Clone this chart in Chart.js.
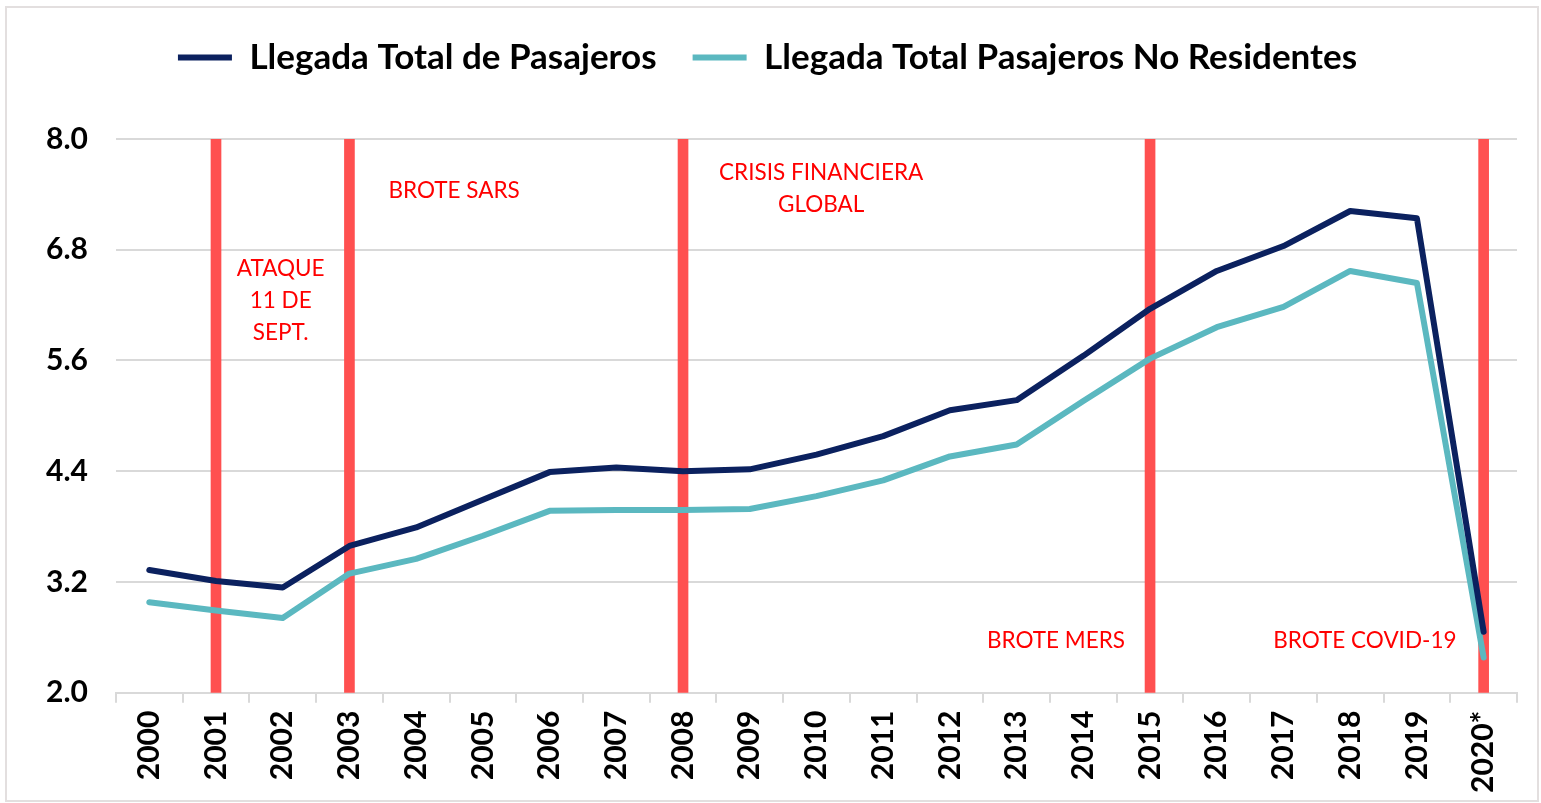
<!DOCTYPE html>
<html>
<head>
<meta charset="utf-8">
<script src="https://cdn.jsdelivr.net/npm/chart.js@4.4.0/dist/chart.umd.min.js"></script>
<style>
  html, body { margin: 0; padding: 0; background: #fff; }
  #wrap { position: relative; width: 1541px; height: 803px; }
  #marco { position: absolute; left: 5px; top: 6px; width: 1530px; height: 792px; border: 2px solid #e3dfdf; pointer-events: none; }
</style>
</head>
<body>
<div id="wrap">
  <canvas id="grafico" width="1541" height="803"></canvas>
  <div id="marco"></div>
</div>
<script>
const anios = ['2000','2001','2002','2003','2004','2005','2006','2007','2008','2009','2010',
               '2011','2012','2013','2014','2015','2016','2017','2018','2019','2020*'];
const llegadaTotal = [3.33,3.21,3.14,3.59,3.79,4.09,4.39,4.44,4.40,4.42,4.58,
                      4.78,5.06,5.17,5.65,6.16,6.57,6.84,7.22,7.14,2.66];
const llegadaNoResidentes = [2.98,2.89,2.81,3.29,3.45,3.70,3.97,3.98,3.98,3.99,4.13,
                             4.30,4.56,4.69,5.16,5.62,5.96,6.18,6.57,6.44,2.38];
const eventos = ['2001','2003','2008','2015','2020*'];
const yTicks = [2.0, 3.2, 4.4, 5.6, 6.8, 8.0];

// textos de eventos: posicion en indice de categoria y valor del eje y
const notas = [
  { x: 1.97, y: 6.59, lineas: ['ATAQUE', '11 DE', 'SEPT.'] },
  { x: 4.57, y: 7.44, lineas: ['BROTE SARS'] },
  { x: 10.07, y: 7.63, lineas: ['CRISIS FINANCIERA', 'GLOBAL'] },
  { x: 13.59, y: 2.56, lineas: ['BROTE MERS'] },
  { x: 18.22, y: 2.56, lineas: ['BROTE COVID-19'] }
];

const FUENTE = 'Lato, "Open Sans", sans-serif';

const notasPlugin = {
  id: 'notas',
  afterDatasetsDraw(chart) {
    const ctx = chart.ctx;
    const xs = chart.scales.x, ys = chart.scales.y;
    ctx.save();
    ctx.fillStyle = '#ff0000';
    ctx.font = '22.5px ' + FUENTE;
    ctx.textAlign = 'center';
    ctx.textBaseline = 'middle';
    notas.forEach(n => {
      const px = xs.getPixelForValue(n.x);
      const py = ys.getPixelForValue(n.y);
      n.lineas.forEach((t, i) => ctx.fillText(t, px, py + i * 32));
    });
    ctx.restore();
  }
};

// mas espacio debajo de la leyenda
const leyendaAlta = {
  id: 'leyendaAlta',
  beforeInit(chart) {
    const fitOrig = chart.legend.fit;
    chart.legend.fit = function () {
      fitOrig.bind(chart.legend)();
      this.height += 54;
    };
  }
};

document.addEventListener('DOMContentLoaded', () => {
  const ctx = document.getElementById('grafico');

  new Chart(ctx, {
    type: 'bar',
    data: {
      labels: anios,
      datasets: [
        {
          type: 'line',
          label: 'Llegada Total de Pasajeros',
          data: llegadaTotal,
          borderColor: '#0b215f',
          backgroundColor: '#0b215f',
          borderWidth: 6,
          borderCapStyle: 'round',
          borderJoinStyle: 'round',
          pointRadius: 0,
          tension: 0,
          order: 0
        },
        {
          type: 'line',
          label: 'Llegada Total Pasajeros No Residentes',
          data: llegadaNoResidentes,
          borderColor: '#5bb8c0',
          backgroundColor: '#5bb8c0',
          borderWidth: 6,
          borderCapStyle: 'round',
          borderJoinStyle: 'round',
          pointRadius: 0,
          tension: 0,
          order: 1
        },
        {
          label: 'eventos',
          data: anios.map(a => eventos.includes(a) ? 8 : null),
          backgroundColor: '#ff5050',
          barThickness: 10,
          order: 2
        }
      ]
    },
    options: {
      responsive: false,
      animation: false,
      layout: { padding: { left: 18, right: 24, top: 4, bottom: 2 } },
      plugins: {
        tooltip: { enabled: false },
        legend: {
          position: 'top',
          labels: {
            filter: item => item.datasetIndex < 2,
            usePointStyle: true,
            pointStyle: 'line',
            pointStyleWidth: 54,
            color: '#000',
            padding: 36,
            font: { family: FUENTE, size: 35, weight: 'bold' }
          }
        }
      },
      scales: {
        x: {
          grid: { drawOnChartArea: false, drawTicks: true, tickLength: 10, color: '#d9d9d9', lineWidth: 2 },
          border: { color: '#d9d9d9', width: 2 },
          ticks: {
            minRotation: 90,
            maxRotation: 90,
            padding: 8,
            color: '#000',
            font: { family: FUENTE, size: 30, weight: 'bold' }
          }
        },
        y: {
          min: 2,
          max: 8,
          afterBuildTicks: scale => { scale.ticks = yTicks.map(v => ({ value: v })); },
          grid: { color: '#d9d9d9', lineWidth: 2, drawTicks: false },
          border: { display: false },
          ticks: {
            padding: 28,
            color: '#000',
            font: { family: FUENTE, size: 30, weight: 'bold' },
            callback: v => Number(v).toFixed(1)
          }
        }
      }
    },
    plugins: [notasPlugin, leyendaAlta]
  });
});
</script>
</body>
</html>
